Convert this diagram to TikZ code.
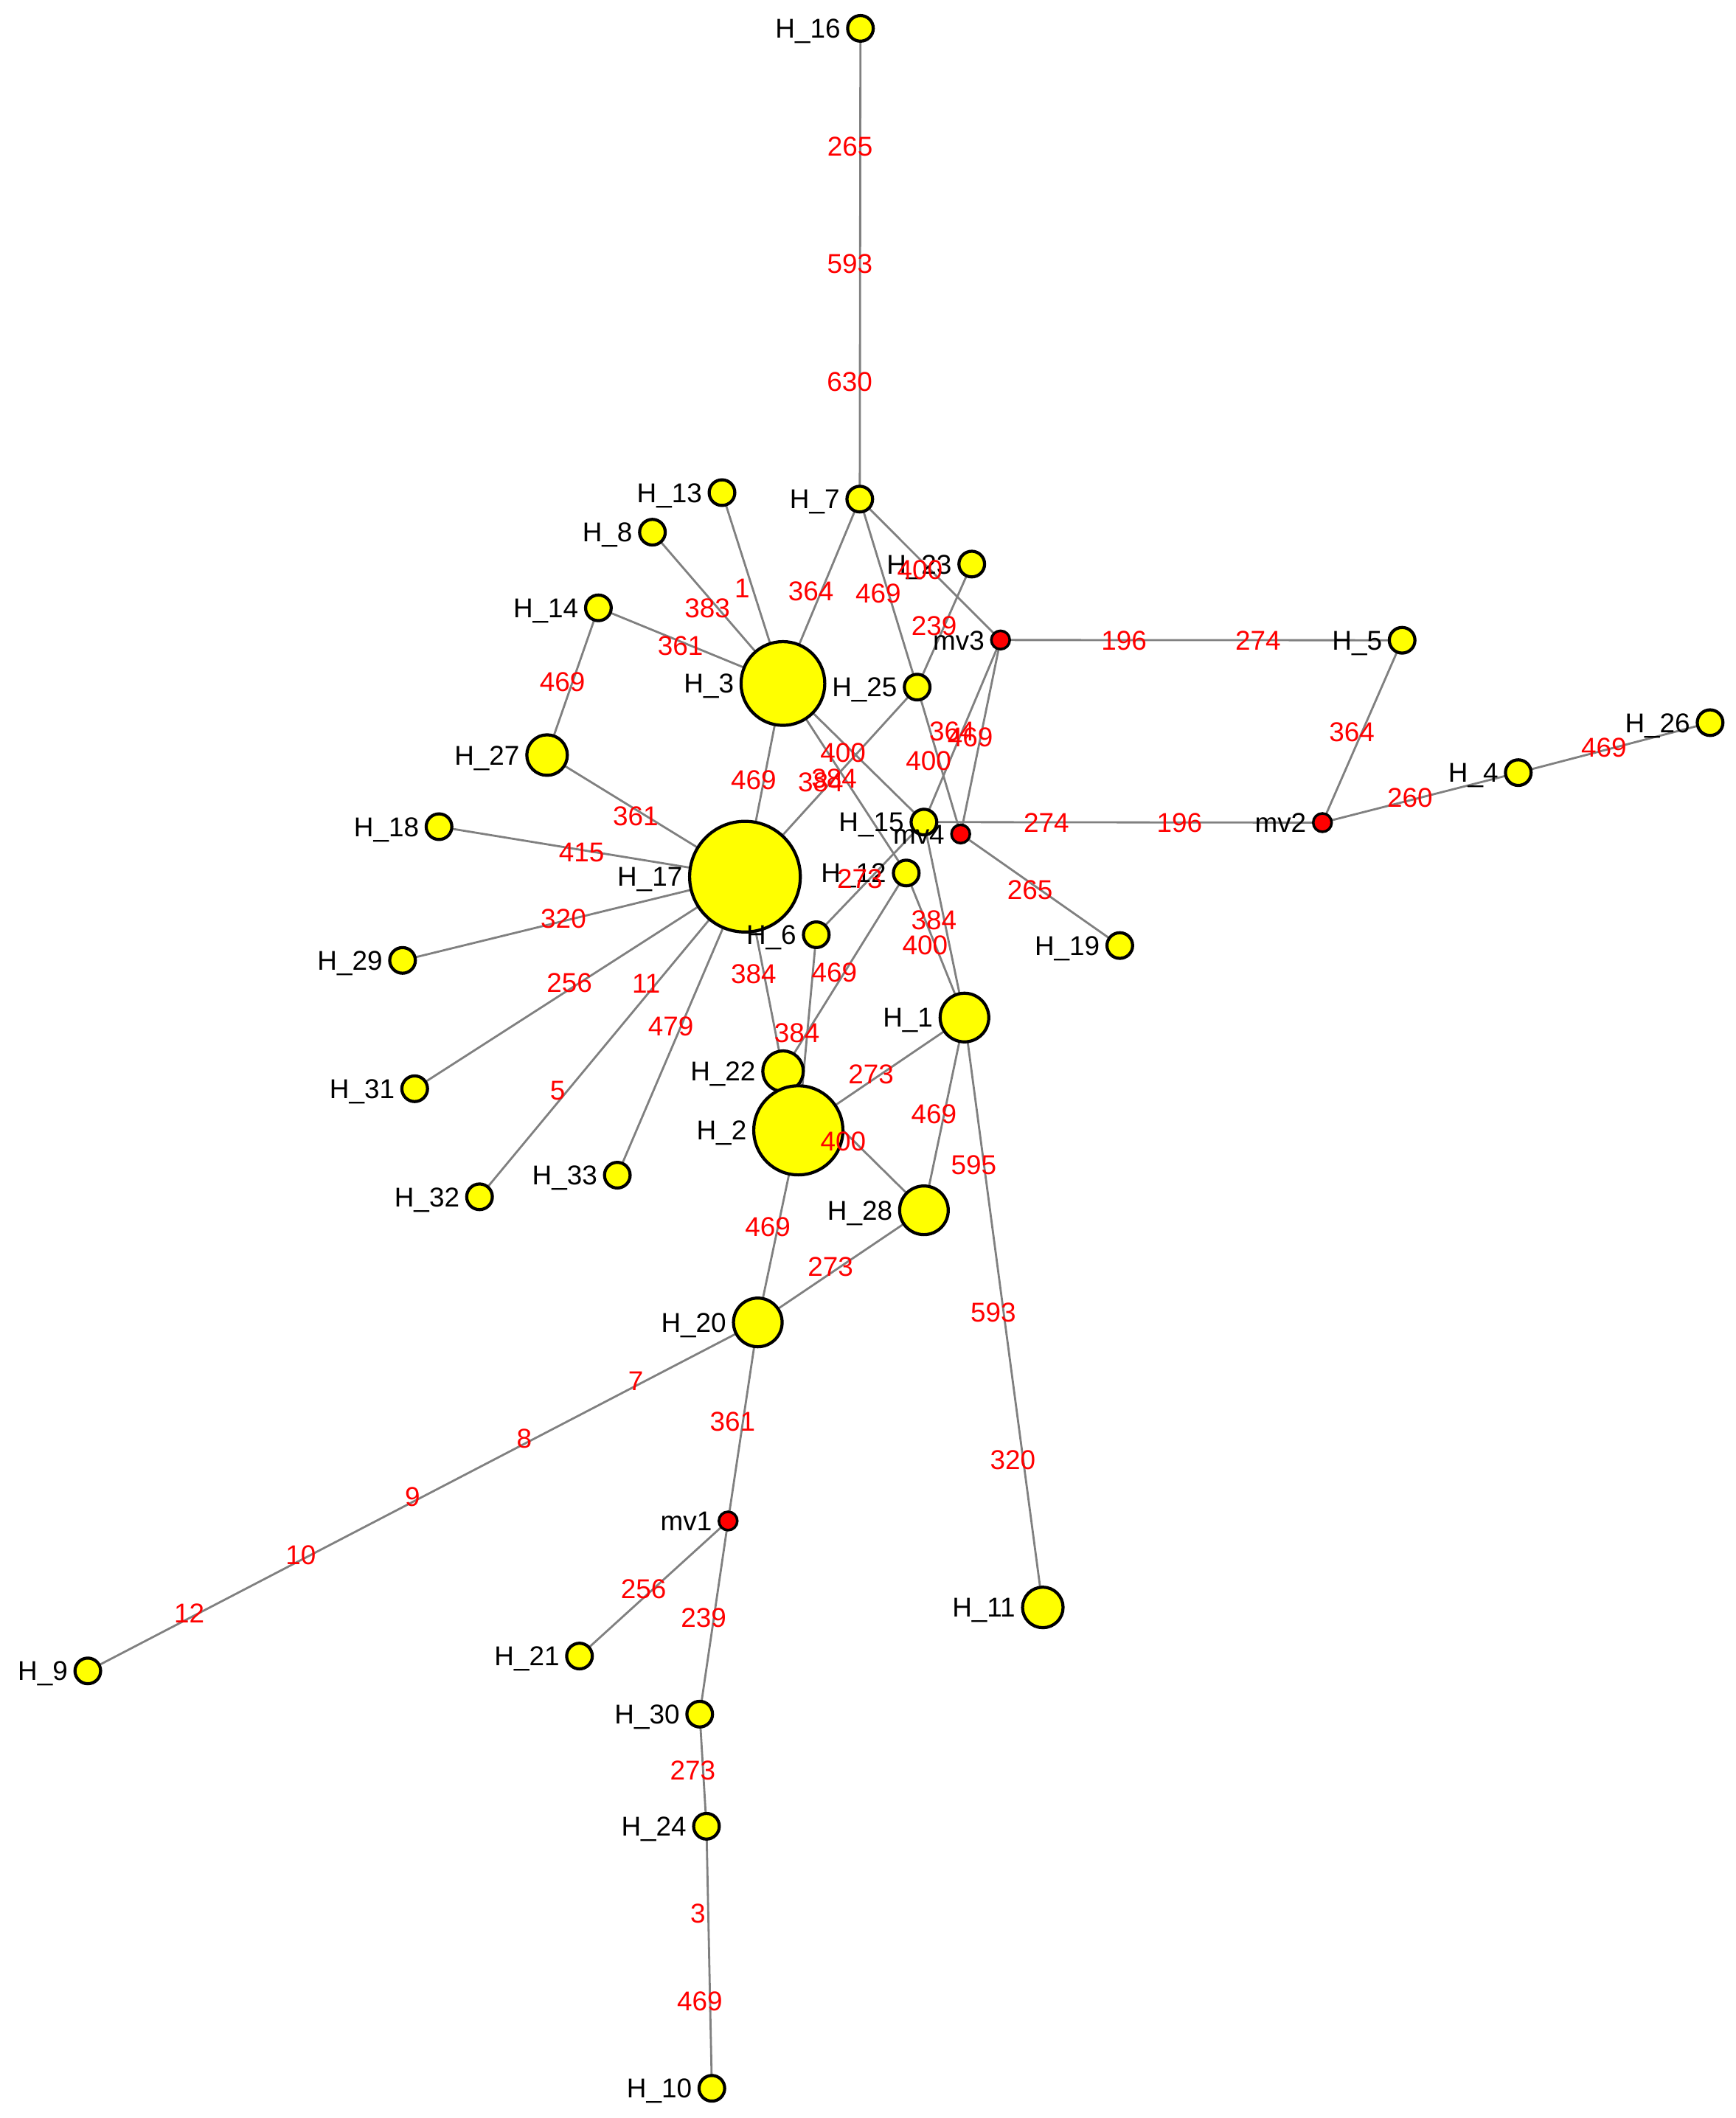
\documentclass[tikz,border=0pt]{standalone}
\usepackage{fontspec}
\setmainfont{Liberation Sans}
\pgfdeclarelayer{bg}
\pgfsetlayers{bg,main}
\definecolor{hapyellow}{RGB}{255,255,0}
\definecolor{mvred}{RGB}{255,0,0}
\definecolor{edgegray}{RGB}{128,128,128}
\newcommand\hedge[3]{%
  \begin{pgfonlayer}{bg}\draw[edge] (#1.center) -- (#2.center);\end{pgfonlayer}%
  \path (#1.center) -- #3 (#2.center);}
\tikzset{
  edge/.style={draw=edgegray, line width=0.8pt},
  hap/.style={circle, draw=black, line width=1.2pt, fill=hapyellow, inner sep=0pt, minimum size=#1},
  hap/.default=0.348cm,
  mv/.style={circle, draw=black, line width=1pt, fill=mvred, inner sep=0pt, minimum size=0.25cm},
  hl/.style={font=\fontsize{10.5}{12}\selectfont, inner sep=0pt, text height=7.5pt, text depth=0pt},
  mut/.style={text=mvred, font=\fontsize{10.5}{12}\selectfont, inner sep=0pt, text height=7.5pt, text depth=0pt, xshift=-0.14cm},
  every label/.style={hl},
  label distance=0.07cm
}
\begin{document}
\begin{tikzpicture}[x=0.01832cm, y=-0.01832cm]
\begin{pgfonlayer}{bg}
\fill[white] (0,0) rectangle (1285,1568);
\end{pgfonlayer}
\useasboundingbox (0,0) rectangle (1285,1568);
% haplotype nodes
\node[hap, label=left:H\_16] (H16) at (637,21) {};
\node[hap, label=left:H\_7] (H7) at (636.5,369.5) {};
\node[hap, label=left:H\_13] (H13) at (534.5,364.7) {};
\node[hap, label=left:H\_8] (H8) at (483,394) {};
\node[hap, label=left:H\_14] (H14) at (443,450) {};
\node[hap, label=left:H\_23] (H23) at (719.4,417.6) {};
\node[mv, label=left:mv3] (mv3) at (740.7,473.8) {};
\node[hap, label=left:H\_5] (H5) at (1038,474) {};
\node[hap=1.136cm, label=left:H\_3] (H3) at (579.6,506) {};
\node[hap, label=left:H\_25] (H25) at (679,508.7) {};
\node[hap=0.55cm, label=left:H\_27] (H27) at (405,559) {};
\node[hap, label=left:H\_18] (H18) at (325,612) {};
\node[hap=1.502cm, label=left:H\_17] (H17) at (551.5,649) {};
\node[hap, label=left:H\_15] (H15) at (684,608.6) {};
\node[mv, label=left:mv4] (mv4) at (711.2,617.4) {};
\node[mv, label=left:mv2] (mv2) at (979,609) {};
\node[hap, label=left:H\_4] (H4) at (1124,572) {};
\node[hap, label=left:H\_26] (H26) at (1266,535) {};
\node[hap, label=left:H\_12] (H12) at (670.9,646.3) {};
\node[hap, label=left:H\_19] (H19) at (829,700) {};
\node[hap, label=left:H\_6] (H6) at (604.3,692) {};
\node[hap, label=left:H\_29] (H29) at (298,711) {};
\node[hap=0.66cm, label=left:H\_1] (H1) at (714,753.3) {};
\node[hap=0.55cm, label=left:H\_22] (H22) at (579.7,793) {};
\node[hap=1.209cm, label=left:H\_2] (H2) at (591,836.8) {};
\node[hap, label=left:H\_31] (H31) at (307,806) {};
\node[hap, label=left:H\_33] (H33) at (457,870) {};
\node[hap, label=left:H\_32] (H32) at (355,886) {};
\node[hap=0.66cm, label=left:H\_28] (H28) at (684,896) {};
\node[hap=0.66cm, label=left:H\_20] (H20) at (561,979) {};
\node[mv, label=left:mv1] (mv1) at (539,1126) {};
\node[hap=0.55cm, label=left:H\_11] (H11) at (772,1190) {};
\node[hap, label=left:H\_9] (H9) at (65,1237) {};
\node[hap, label=left:H\_21] (H21) at (429,1226) {};
\node[hap, label=left:H\_30] (H30) at (518,1269) {};
\node[hap, label=left:H\_24] (H24) at (523,1352) {};
\node[hap, label=left:H\_10] (H10) at (527,1546) {};
% links with mutation labels
\hedge{H16}{H7}{node[mut,pos=0.25]{265} node[mut,pos=0.5]{593} node[mut,pos=0.75]{630}}
\hedge{H7}{H3}{node[mut]{364}}
\hedge{H7}{H25}{node[mut]{469}}
\hedge{H7}{mv3}{node[mut]{400}}
\hedge{H23}{H25}{node[mut]{239}}
\hedge{mv3}{H5}{node[mut,pos=0.333]{196} node[mut,pos=0.667]{274}}
\hedge{H13}{H3}{node[mut]{1}}
\hedge{H8}{H3}{node[mut]{383}}
\hedge{H14}{H3}{node[mut]{361}}
\hedge{H14}{H27}{node[mut]{469}}
\hedge{H27}{H17}{node[mut]{361}}
\hedge{H3}{H17}{node[mut]{469}}
\hedge{H18}{H17}{node[mut]{415}}
\hedge{H29}{H17}{node[mut]{320}}
\hedge{H31}{H17}{node[mut]{256}}
\hedge{H17}{H32}{node[mut,pos=0.333]{11} node[mut,pos=0.667]{5}}
\hedge{H33}{H17}{node[mut]{479}}
\hedge{H25}{H17}{node[mut]{384}}
\hedge{H3}{H12}{node[mut]{384}}
\hedge{H3}{H15}{node[mut]{400}}
\hedge{H25}{mv4}{node[mut]{400}}
\hedge{mv3}{H15}{node[mut]{364}}
\hedge{mv3}{mv4}{node[mut]{469}}
\hedge{H15}{mv2}{node[mut,pos=0.333]{274} node[mut,pos=0.667]{196}}
\hedge{mv4}{H19}{node[mut]{265}}
\hedge{H5}{mv2}{node[mut]{364}}
\hedge{mv2}{H4}{node[mut]{260}}
\hedge{H4}{H26}{node[mut]{469}}
\hedge{H15}{H6}{node[mut]{273}}
\hedge{H15}{H1}{node[mut]{384}}
\hedge{H12}{H1}{node[mut]{400}}
\hedge{H12}{H22}{node[mut]{469}}
\hedge{H17}{H22}{node[mut]{384}}
\hedge{H6}{H2}{node[mut]{384}}
\hedge{H1}{H2}{node[mut]{273}}
\hedge{H1}{H28}{node[mut]{469}}
\hedge{H22}{H28}{node[mut]{400}}
\hedge{H1}{H11}{node[mut,pos=0.25]{595} node[mut,pos=0.5]{593} node[mut,pos=0.75]{320}}
\hedge{H2}{H20}{node[mut]{469}}
\hedge{H28}{H20}{node[mut]{273}}
\hedge{H20}{H9}{node[mut,pos=0.1667]{7} node[mut,pos=0.3333]{8} node[mut,pos=0.5]{9} node[mut,pos=0.6667]{10} node[mut,pos=0.8333]{12}}
\hedge{H20}{mv1}{node[mut]{361}}
\hedge{mv1}{H21}{node[mut]{256}}
\hedge{mv1}{H30}{node[mut]{239}}
\hedge{H30}{H24}{node[mut]{273}}
\hedge{H24}{H10}{node[mut,pos=0.333]{3} node[mut,pos=0.667]{469}}
\end{tikzpicture}
\end{document}
